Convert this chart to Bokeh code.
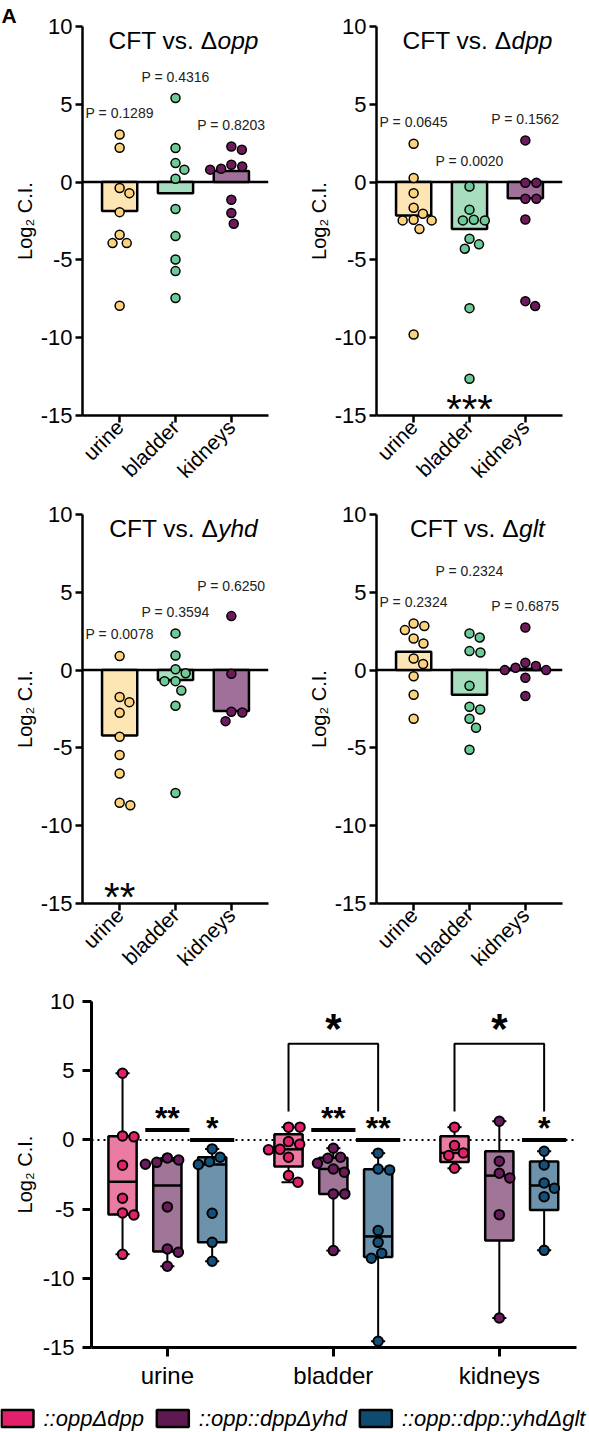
import math
import numpy as np
from bokeh.plotting import figure
from bokeh.models import Range1d, FixedTicker, Span
from bokeh.layouts import column, row
from bokeh.core.properties import value
from bokeh.embed import file_html
from bokeh.resources import INLINE

FONT = "Liberation Sans"

# ---------------- data ----------------
organs = ["urine", "bladder", "kidneys"]
y_ticks = [-15, -10, -5, 0, 5, 10]

# Panel A: CFT vs. Δopp
opp_urine = [3.06, 2.21, -0.38, -0.71, -1.93, -3.38, -3.92, -3.92, -7.95]
opp_bladder = [5.40, 2.19, 1.22, 0.80, 0.22, -1.73, -3.47, -4.97, -5.72, -7.45]
opp_kidneys = [2.29, 2.08, 1.12, 1.01, 0.86, 0.80, -1.13, -1.99, -2.68]
opp_bars = [-1.86, -0.71, 0.71]
opp_p = ["P = 0.1289", "P = 0.4316", "P = 0.8203"]
opp_p_y = [4.43, 6.77, 3.64]
opp_stars = ["", "", ""]

# Panel B: CFT vs. Δdpp
dpp_urine = [2.47, 0.26, -0.71, -1.65, -2.03, -2.46, -2.42, -2.46, -3.02, -9.79]
dpp_bladder = [-0.28, -1.77, -2.46, -2.46, -2.42, -3.64, -4.00, -4.28, -8.10, -12.64]
dpp_kidneys = [2.68, -0.04, -0.04, -1.07, -1.07, -2.40, -7.97, -7.65]
dpp_bars = [-2.14, -3.02, -1.03]
dpp_p = ["P = 0.0645", "P = 0.0020", "P = 0.1562"]
dpp_p_y = [3.86, 1.35, 4.07]
dpp_stars = ["", "***", ""]

# Panel C: CFT vs. Δyhd
yhd_urine = [0.90, -1.73, -2.06, -2.74, -4.28, -5.46, -6.64, -8.52, -8.69]
yhd_bladder = [2.36, 0.94, 0.06, -0.21, -0.71, -0.71, -1.31, -2.29, -7.90]
yhd_kidneys = [3.47, -0.24, -2.68, -2.72, -3.28]
yhd_bars = [-4.20, -0.64, -2.63]
yhd_p = ["P = 0.0078", "P = 0.3594", "P = 0.6250"]
yhd_p_y = [2.31, 3.75, 5.42]
yhd_stars = ["**", "", ""]

# Panel D: CFT vs. Δglt
glt_urine = [3.00, 2.83, 2.57, 2.03, 1.71, 0.75, 0.39, -0.39, -1.58, -3.13]
glt_bladder = [2.36, 2.10, 1.22, 1.13, -1.01, -2.36, -2.53, -3.13, -3.70, -5.12]
glt_kidneys = [2.74, 0.47, 0.26, 0.15, 0.0, 0.0, -0.49, -1.67]
glt_bars = [1.18, -1.58, 0.08]
glt_p = ["P = 0.2324", "P = 0.2324", "P = 0.6875"]
glt_p_y = [4.37, 6.36, 4.11]
glt_stars = ["", "", ""]

# Panel E: complemented strains (box plots)
strains = ["::oppΔdpp", "::opp::dppΔyhd", "::opp::dpp::yhdΔglt"]
urine_oppdpp = [4.82, 0.29, 0.22, -1.83, -4.22, -5.28, -5.42, -8.27]
urine_dppyhd = [-1.30, -1.45, -1.62, -1.76, -4.84, -7.88, -8.12, -9.13]
urine_yhdglt = [-0.65, -1.25, -1.57, -1.78, -5.30, -7.40, -8.77]
bladder_oppdpp = [0.92, 0.92, -0.12, -0.32, -0.68, -0.72, -1.25, -2.58, -3.06]
bladder_dppyhd = [-0.60, -1.25, -1.33, -1.69, -2.10, -2.34, -3.90, -3.90, -8.00]
bladder_yhdglt = [-0.96, -2.10, -2.17, -6.55, -7.40, -8.19, -8.55, -14.55]
kidneys_oppdpp = [0.92, -0.41, -0.94, -1.13, -2.05]
kidneys_dppyhd = [1.35, -1.54, -2.41, -2.75, -5.40, -12.87]
kidneys_yhdglt = [-0.82, -1.81, -3.11, -3.49, -4.10, -7.98]

sig_one_sample = [["", "**", "*"], ["", "**", "**"], ["", "", "*"]]
sig_line_level = [0.0, 0.72, 0.0]
bracket_organ = [1, 2]
bracket_text = ["*", "*"]
bracket_top = [6.94, 6.94]
bracket_base = [2.05, 2.05]

# ---------------- styles ----------------
ORG_POINT = ["#FCD27E", "#6DC996", "#6B1A5A"]
ORG_BAR = ["#FDE5B4", "#A8DEBF", "#A0709B"]
STRAIN_PT = ["#E3206B", "#6A1B5B", "#14507A"]
STRAIN_BOX = ["#EA7CA3", "#A07597", "#6D92AB"]
STRAIN_LEG = ["#E3206B", "#5E1A50", "#0F4A70"]

WID = {"C": .722, "F": .611, "T": .611, " ": .278, "v": .5, "s": .5, ".": .278,
       "Δ": .668, "o": .556, "p": .556, "d": .556, "y": .5, "h": .556, "g": .556,
       "l": .222, "t": .278, ":": .278}


def text_width(s, size):
    return sum(WID.get(c, 0.556) for c in s) * size


def swarm(vals, diam, ppx, ppy):
    order = sorted(range(len(vals)), key=lambda i: -vals[i])
    placed = []
    out = [0.0] * len(vals)
    for i in order:
        y = vals[i] * ppy
        cands = [0.0]
        for px, py in placed:
            dy = abs(py - y)
            if dy < diam:
                dx = math.sqrt(diam * diam - dy * dy)
                cands += [px + dx, px - dx]
        cands.sort(key=lambda c: (round(abs(c), 6), -c))
        chosen = cands[-1]
        for c in cands:
            if all((c - px) ** 2 + (y - py) ** 2 >= diam * diam - 1e-6 for px, py in placed):
                chosen = c
                break
        placed.append((chosen, y))
        out[i] = chosen / ppx
    return out


def style_axes(p, tick_font, tick_out, lw):
    for ax in (p.xaxis, p.yaxis):
        ax.axis_line_width = lw
        ax.axis_line_color = "black"
        ax.major_tick_line_width = lw
        ax.major_tick_line_color = "black"
        ax.major_tick_out = tick_out
        ax.major_tick_in = 0
        ax.minor_tick_line_color = None
        ax.major_label_text_font = FONT
        ax.major_label_text_color = "black"
    p.yaxis.major_label_text_font_size = tick_font
    p.yaxis.ticker = FixedTicker(ticks=y_ticks)
    p.yaxis.major_label_overrides = {t: str(t) for t in y_ticks}
    p.yaxis.axis_label = "Log₂ C.I."
    p.yaxis.axis_label_text_font = FONT
    p.yaxis.axis_label_text_font_size = "20px"
    p.yaxis.axis_label_text_font_style = "normal"
    p.yaxis.axis_label_text_color = "black"
    p.xaxis.ticker = FixedTicker(ticks=[0, 1, 2])
    p.xaxis.major_label_overrides = {i: o for i, o in enumerate(organs)}
    p.xgrid.visible = False
    p.ygrid.visible = False
    p.outline_line_color = None


def draw_stars(p, xs, ys, texts, size, bold):
    p.text(x=xs, y=ys, text=texts, text_font=value(FONT), text_font_size=f"{size}px",
           text_font_style="bold" if bold else "normal", text_align="center",
           text_baseline="alphabetic", y_offset=0.10 * size, text_color="black")


FW, FH = 186, 389


def cft_panel(gene, groups, bars, plabels, p_y, stars, bl, br, bt, bb, letter=None):
    xr = (-0.665, 2.665)
    p = figure(frame_width=FW, frame_height=FH, x_range=Range1d(*xr), y_range=Range1d(-15, 10),
               output_backend="svg", toolbar_location=None,
               min_border_left=bl, min_border_right=br, min_border_top=bt, min_border_bottom=bb)
    style_axes(p, "22px", 7, 2.5)
    p.xaxis.major_label_text_font_size = "21px"
    p.xaxis.major_label_orientation = math.pi / 4
    p.xaxis.major_label_standoff = 1
    p.yaxis.major_label_standoff = 3
    p.yaxis.axis_label_standoff = 2
    ppx, ppy = FW / (xr[1] - xr[0]), FH / 25.0

    p.add_layout(Span(location=0, dimension="width", line_color="black", line_width=2.5, level="underlay"))
    p.vbar(x=[0, 1, 2], top=bars, bottom=0, width=0.63, fill_color=ORG_BAR,
           line_color="black", line_width=2.5)
    for i, g in enumerate(groups):
        dx = swarm(g, 11.0, ppx, ppy)
        p.scatter(x=[i + d for d in dx], y=g, size=9, fill_color=ORG_POINT[i],
                  line_color="black", line_width=1.5)
    p.text(x=[0, 1, 2], y=p_y, text=plabels, text_font=value(FONT), text_font_size="14px",
           text_align="center", text_baseline="middle", text_color="#222222")
    star_y = -15 + 11 / ppy
    draw_stars(p, [0, 1, 2], [star_y] * 3, stars, 40, False)

    fs = 24.5
    head = "CFT vs. Δ"
    w1, w2 = text_width(head, fs), text_width(gene, fs)
    x_split = (xr[0] + xr[1]) / 2 + (8 - (w1 + w2) / 2 + w1) / ppx
    ty = 10 - 14 / ppy
    p.text(x=[x_split], y=[ty], text=[head], text_font=value(FONT), text_font_size=f"{fs}px",
           text_align="right", text_baseline="middle", text_color="black")
    p.text(x=[x_split], y=[ty], text=[gene], text_font=value(FONT), text_font_size=f"{fs}px",
           text_font_style="italic", text_align="left", text_baseline="middle", text_color="black")
    if letter:
        p.title.text = letter
        p.title.align = "left"
        p.title.offset = -bl + 1
        p.title.standoff = 0
        p.title.text_font = FONT
        p.title.text_font_size = "21px"
        p.title.text_font_style = "bold"
        p.title.text_color = "black"
    return p


pA = cft_panel("opp", [opp_urine, opp_bladder, opp_kidneys], opp_bars, opp_p, opp_p_y, opp_stars,
               82, 26, 26, 85, letter="A")
pB = cft_panel("dpp", [dpp_urine, dpp_bladder, dpp_kidneys], dpp_bars, dpp_p, dpp_p_y, dpp_stars,
               82, 27, 26, 85)
pC = cft_panel("yhd", [yhd_urine, yhd_bladder, yhd_kidneys], yhd_bars, yhd_p, yhd_p_y, yhd_stars,
               82, 26, 14, 85)
pD = cft_panel("glt", [glt_urine, glt_bladder, glt_kidneys], glt_bars, glt_p, glt_p_y, glt_stars,
               82, 27, 14, 85)

# ---------------- panel E ----------------
e_groups = [[urine_oppdpp, urine_dppyhd, urine_yhdglt],
            [bladder_oppdpp, bladder_dppyhd, bladder_yhdglt],
            [kidneys_oppdpp, kidneys_dppyhd, kidneys_yhdglt]]

EFW, EFH = 485, 346
exr = (-0.457, 2.465)
pE = figure(frame_width=EFW, frame_height=EFH, x_range=Range1d(*exr), y_range=Range1d(-15, 10),
            output_backend="svg", toolbar_location=None,
            min_border_left=91, min_border_right=13, min_border_top=13, min_border_bottom=55)
style_axes(pE, "22px", 9, 3)
pE.xaxis.major_label_text_font_size = "24px"
pE.xaxis.major_label_standoff = 5
pE.yaxis.major_label_standoff = 8
pE.yaxis.axis_label_standoff = 4
eppx = EFW / (exr[1] - exr[0])
eppy = EFH / 25.0

pE.add_layout(Span(location=0, dimension="width", line_color="black", line_width=2,
                   line_dash="2 4", level="underlay"))

offs = [-0.27, 0.0, 0.27]
bw, capw = 0.17, 0.085
wx0, wy0, wx1, wy1 = [], [], [], []
cx0, cy, cx1 = [], [], []
bl_, br_, bb_, bt_, bfill = [], [], [], [], []
mx0, my, mx1 = [], [], []
for oi, og in enumerate(e_groups):
    for si, vals in enumerate(og):
        cx = oi + offs[si]
        q1, med, q3 = np.percentile(vals, [25, 50, 75], method="weibull")
        lo, hi = min(vals), max(vals)
        wx0 += [cx, cx]; wx1 += [cx, cx]; wy0 += [q3, q1]; wy1 += [hi, lo]
        cx0 += [cx - capw / 2] * 2; cx1 += [cx + capw / 2] * 2; cy += [hi, lo]
        bl_.append(cx - bw / 2); br_.append(cx + bw / 2); bb_.append(q1); bt_.append(q3)
        bfill.append(STRAIN_BOX[si])
        mx0.append(cx - bw / 2); mx1.append(cx + bw / 2); my.append(med)

pE.segment(x0=wx0, y0=wy0, x1=wx1, y1=wy1, line_color="black", line_width=2)
pE.segment(x0=cx0, y0=cy, x1=cx1, y1=cy, line_color="black", line_width=2)
pE.quad(left=bl_, right=br_, bottom=bb_, top=bt_, fill_color=bfill, line_color="black", line_width=2.5)
pE.segment(x0=mx0, y0=my, x1=mx1, y1=my, line_color="black", line_width=2.5)
for oi, og in enumerate(e_groups):
    for si, vals in enumerate(og):
        cx = oi + offs[si]
        dx = swarm(vals, 11.5, eppx, eppy)
        pE.scatter(x=[cx + d for d in dx], y=vals, size=9.5, fill_color=STRAIN_PT[si],
                   line_color="black", line_width=2)

# one-sample significance
sx0, sx1, sy_, tx, ty_, tt = [], [], [], [], [], []
for oi in range(3):
    for si in range(3):
        lab = sig_one_sample[oi][si]
        if lab:
            cx = oi + offs[si]
            lvl = sig_line_level[si]
            sx0.append(cx - 0.133); sx1.append(cx + 0.133); sy_.append(lvl)
            tx.append(cx); ty_.append(lvl + 15 / eppy); tt.append(lab)
pE.segment(x0=sx0, y0=sy_, x1=sx1, y1=sy_, line_color="black", line_width=4)
draw_stars(pE, tx, ty_, tt, 32, True)

# brackets
bxs, bys, btx, bty = [], [], [], []
for k, oi in enumerate(bracket_organ):
    x0, x1 = oi + offs[0], oi + offs[2]
    bxs.append([x0, x0, x1, x1])
    bys.append([bracket_base[k], bracket_top[k], bracket_top[k], bracket_base[k]])
    btx.append(oi); bty.append(bracket_top[k] + 20 / eppy)
pE.multi_line(xs=bxs, ys=bys, line_color="black", line_width=2)
draw_stars(pE, btx, bty, bracket_text, 42, True)

# ---------------- legend ----------------
LW, LH = 589, 30
leg = figure(frame_width=LW, frame_height=LH, x_range=Range1d(0, LW), y_range=Range1d(0, LH),
             output_backend="svg", toolbar_location=None, min_border=0,
             x_axis_type=None, y_axis_type=None)
leg.outline_line_color = None
leg.xgrid.visible = False
leg.ygrid.visible = False
lfs = 22
sw_w, sw_h = 32, 17
xpos = 1
rx, tx2 = [], []
for s in strains:
    rx.append(xpos + sw_w / 2)
    xpos += sw_w + 10
    tx2.append(xpos)
    xpos += text_width(s, lfs) + 13
yc = LH - 16
leg.rect(x=rx, y=[yc] * 3, width=sw_w, height=sw_h, fill_color=STRAIN_LEG,
         line_color="black", line_width=2.5)
leg.text(x=tx2, y=[yc] * 3, text=strains, text_font=value(FONT), text_font_size=f"{lfs}px",
         text_font_style="italic", text_align="left", text_baseline="middle", text_color="black")

layout = column(row(pA, pB, spacing=0), row(pC, pD, spacing=0), row(pE), row(leg), spacing=0)
open("out.html", "w").write(file_html(layout, INLINE))
